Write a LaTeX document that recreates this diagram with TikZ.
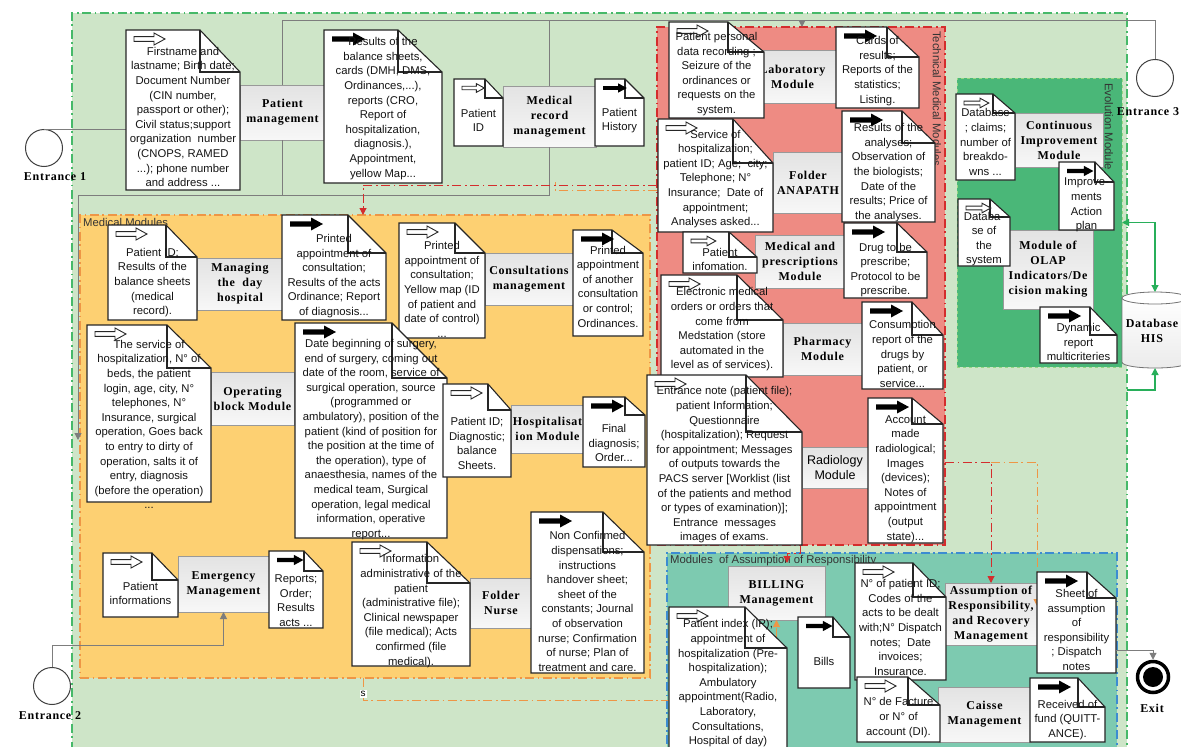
\documentclass[tikz,border=0pt]{standalone}
\usepackage{fontspec}
\setmainfont{Liberation Serif}
\newfontfamily\docff{Liberation Sans}
\newfontfamily\modff{Liberation Serif}[LetterSpace=6.0]
\usetikzlibrary{arrows.meta,calc}

\definecolor{gfill}{RGB}{206,229,200}
\definecolor{gedge}{RGB}{70,185,105}
\definecolor{ofill}{RGB}{253,208,114}
\definecolor{oedge}{RGB}{238,150,70}
\definecolor{rfill}{RGB}{238,139,131}
\definecolor{redge}{RGB}{212,45,45}
\definecolor{efill}{RGB}{74,183,120}
\definecolor{eedge}{RGB}{150,215,130}
\definecolor{tfill}{RGB}{125,202,176}
\definecolor{tedge}{RGB}{60,140,210}
\definecolor{flowgray}{RGB}{125,125,125}
\definecolor{dbgreen}{RGB}{40,175,90}

\newcommand\docfont{\docff\fontsize{11.3}{14.6}\selectfont}
\newcommand\modfont{\modff\bfseries\fontsize{12}{15}\selectfont}

% colored area: name, x1, y1, x2, y2, style
\newcommand\zone[6]{%
  \node[zonebox,#6,minimum width={(#4-#2)*1pt},minimum height={(#5-#3)*1pt}]
    (#1) at ({(#2+#4)/2},{(#3+#5)/2}) {};}
% process box: name, x1, y1, x2, y2, label
\newcommand\modul[6]{%
  \node[modbox,minimum width={(#4-#2)*1pt},minimum height={(#5-#3)*1pt}]
    (#1) at ({(#2+#4)/2},{(#3+#5)/2}) {#6};}
% document with folded corner: name, x1, y1, x2, y2, fold corner, text shift, arrow pic, text
\newcommand\docu[9]{%
  \node[docframe,minimum width={(#4-#2)*1pt},minimum height={(#5-#3)*1pt}]
    (#1) at ({(#2+#4)/2},{(#3+#5)/2}) {};
  \coordinate (#1f) at (#6);
  \draw[docline] (#1.north west) -- (#1.north west -| #1f) -- (#1f -| #1.east)
    -- (#1.south east) -- (#1.south west) -- cycle;
  \draw[foldline] (#1.north west -| #1f) -- (#1f) -- (#1f -| #1.east);
  \path (#1.north west) ++(8,9) pic #8;
  \node[doctext] (#1t) at ([yshift={-(#7)*1pt}]#1.center) {#9};}

\begin{document}
\begin{tikzpicture}[x=1pt,y=-1pt,
  zonebox/.style={inner sep=0,outer sep=0,line width=1.1pt},
  ddash/.style={dash pattern=on 9pt off 3.5pt on 1.8pt off 3.5pt},
  modbox/.style={draw=black!40,top color=black!11,bottom color=black!3,inner sep=1pt,
    outer sep=0,align=center,font=\modfont,line width=0.6pt},
  docframe/.style={inner sep=0,outer sep=0},
  docline/.style={draw=black!85,fill=white,line width=1.1pt},
  foldline/.style={draw=black!85,line width=1.1pt},
  doctext/.style={font=\docfont,align=center,inner sep=0,text=black!92},
  flow/.style={draw=flowgray,line width=1pt},
  arrowend/.style={-{Triangle[length=7pt,width=7pt]}},
  entr/.style={circle,draw=black!75,fill=white,line width=1pt,minimum size=37pt,inner sep=0},
  lbl/.style={font=\modfont,inner sep=0},
  zonelbl/.style={font=\docfont,inner sep=0,text=black!80},
  reddd/.style={draw=redge,line width=1pt,ddash},
  orgdd/.style={draw=oedge,line width=1pt,ddash},
  dbflow/.style={draw=dbgreen,line width=1.2pt},
  inarrow/.pic={\draw[line width=0.9pt,draw=black!85,fill=white]
    (0,-2.4) -- (20,-2.4) -- (20,-6) -- (31,0) -- (20,6) -- (20,2.4) -- (0,2.4) -- cycle;},
  outarrow/.pic={\fill[black]
    (0,-2.6) -- (21,-2.6) -- (21,-6.5) -- (33,0) -- (21,6.5) -- (21,2.6) -- (0,2.6) -- cycle;}
]
\path[use as bounding box] (0,0) rectangle (1181,747);
\clip (0,0) rectangle (1181,747);
\fill[white] (0,0) rectangle (1181,747);

% ---------- areas ----------
\zone{outer}{72}{13}{1127}{770}{fill=gfill,draw=gedge,ddash}
\zone{medm}{80}{215}{650}{678}{fill=ofill,draw=oedge,ddash}
\zone{tech}{657}{27}{945}{545}{fill=rfill,draw=redge,ddash}
\zone{evo}{957}{78}{1122}{367}{fill=efill,draw=eedge,dashed,line width=0.8pt}
\zone{assum}{667}{553}{1117}{770}{fill=tfill,draw=tedge,ddash}

\node[zonelbl,anchor=west] (medml) at (83,222) {Medical Modules};
\node[zonelbl,anchor=west,rotate=-90] (techl) at (937,31) {Technical Medical Modules};
\node[zonelbl,anchor=west,rotate=-90] (evol) at (1109,83) {Evolution Module};
\node[zonelbl,anchor=west] (assuml) at (670,561) {Modules\ \ of Assumption of Responsibility};

% ---------- events ----------
\node[entr] (e1) at (44,148) {};
\node[lbl] (e1l) at (55,177) {Entrance 1};
\node[entr] (e2) at (52,686) {};
\node[lbl] (e2l) at (50,716) {Entrance 2};
\node[entr] (e3) at (1155,78) {};
\node[lbl] (e3l) at (1148,112) {Entrance 3};
\node[circle,draw=black,line width=3.5pt,fill=white,minimum size=31pt,inner sep=0] (exit) at (1153,677) {};
\node[circle,fill=black,minimum size=20pt,inner sep=0] (exitc) at (exit) {};
\node[lbl] (exitl) at (1152,708) {Exit};

% ---------- database ----------
\node[docframe,minimum width=66pt,minimum height=76pt] (db) at (1155,330) {};
\draw[draw=black!55,line width=0.8pt,top color=white,bottom color=black!8]
  (1122,298) -- (1122,362) .. controls (1122,370) and (1188,370) .. (1188,362) -- (1188,298) -- cycle;
\draw[draw=black!55,line width=0.8pt,fill=white] (1155,298) ellipse [x radius=33,y radius=6];
\node[lbl,align=center] (dbl) at (1152,331) {Database\\HIS};

% ---------- connector anchors ----------
\coordinate (ytop) at (0,20);
\coordinate (ymid) at (0,195);
\coordinate (lftin) at (78,440);
\coordinate (techin) at (802,27);
\coordinate (e2k) at (0,645);
\coordinate (mmin) at (363,215);
\coordinate (ybot) at (0,700);
\coordinate (billin) at (787,563);

% ---------- processes ----------
\modul{pm}{240}{85}{325}{140}{Patient\\management}
\modul{mr}{503}{86}{596}{147}{Medical\\record\\management}
\modul{lab}{748}{50}{837}{103}{Laboratory\\Module}
\modul{ana}{773}{152}{843}{213}{Folder\\ANAPATH}
\modul{medp}{755}{235}{845}{288}{Medical and\\prescriptions\\Module}
\modul{phar}{783}{323}{862}{375}{Pharmacy\\Module}
\node[modbox,font=\docff\fontsize{12.5}{15.5}\selectfont,minimum width=66pt,minimum height=41pt]
  (rad) at (835,467.5) {Radiology\\Module};
\modul{ci}{1015}{113}{1103}{167}{Continuous\\Improvement\\Module}
\modul{olap}{1003}{230}{1093}{309}{Module of\\OLAP\\Indicators/De\\cision making}
\modul{day}{197}{258}{283}{310}{Managing\\the\ \ day\\hospital}
\modul{cons}{485}{253}{573}{305}{Consultations\\management}
\modul{opb}{211}{372}{294}{425}{Operating\\block Module}
\modul{hosp}{511}{405}{584}{453}{Hospitalisat\\ion Module}
\modul{emer}{178}{556}{269}{612}{Emergency\\Management}
\modul{nurse}{470}{578}{532}{628}{Folder\\Nurse}
\modul{bill}{728}{566}{825}{620}{BILLING\\Management}
\modul{arm}{945}{583}{1037}{645}{Assumption of\\Responsibility,\\and Recovery\\Management}
\modul{caisse}{938}{687}{1031}{742}{Caisse\\Management}

% ---------- sequence flows ----------
\draw[flow] (e3.north) |- (pm.north |- ytop) -- (pm.north);
\draw[flow] (mr.north |- ytop) -- (mr.north);
\draw[flow,arrowend] (techin |- ytop) -- (techin);
\draw[flow] (pm.south) -- (pm.south |- ymid);
\draw[flow,arrowend] (mr.south) |- (lftin |- ymid) -- (lftin);
\draw[flow] (e1.north) -- (e1.north -| pm.west);
\draw[flow,arrowend] (e2.north) -- (e2.north |- e2k) -| (emer.south);
\draw[dbflow,{Triangle[length=7pt,width=7pt]}-{Triangle[length=7pt,width=7pt]}] (evo.east) -| (db.north);
\draw[dbflow,arrowend] (outer.east |- 0,390) -| (db.south);

% ---------- message flows ----------
\draw[reddd,arrowend] (tech.west |- 0,185) -| (mmin);
\draw[orgdd] (tech.west |- 0,190) -- (555,190) -- (555,182);
\draw[orgdd,arrowend] (medm.south -| mmin) |- (bill.south |- ybot) -- (bill.south);
\node[font=\docff\fontsize{10}{10}\selectfont,fill=white,inner sep=1pt] (sl) at (363,694) {s};
\draw[reddd,arrowend] (tech.east |- 0,462) -| (arm.north);
\draw[orgdd,arrowend] (arm.north |- 0,462) -| ([yshift=8pt]arm.east);
\draw[reddd,arrowend] (tech.south -| 800,0) |- (billin |- 0,553) -- (billin);

% ---------- documents ----------
\docu{d1}{126}{30}{240}{190}{200,72}{7}{{inarrow}}{Firstname and\\lastname; Birth date;\\Document Number\\(CIN number,\\passport or other);\\Civil status;support\\organization\ \ number\\(CNOPS, RAMED\\...); phone number\\and address ...}
\docu{d2}{324}{30}{442}{183}{398,72}{2}{{outarrow}}{Results of the\\balance sheets,\\cards (DMH, DMS,\\Ordinances,...),\\reports (CRO,\\Report of\\hospitalization,\\diagnosis.),\\Appointment,\\yellow Map...}
\docu{d3}{454}{79}{503}{146}{485,98}{8}{[scale=.72]{inarrow}}{Patient\\ID}
\docu{d4}{595}{79}{644}{146}{625,98}{8}{[scale=.72]{outarrow}}{Patient\\History}
\docu{d5}{669}{22}{764}{118}{728,52}{4}{{inarrow}}{Patient personal\\data recording ;\\Seizure of the\\ordinances or\\requests on the\\system.}
\docu{d6}{836}{27}{919}{108}{887,57}{3.5}{{outarrow}}{Cards of\\results;\\Reports of the\\statistics;\\Listing.}
\docu{d7}{658}{119}{773}{232}{733,163}{3.5}{{inarrow}}{Service of\\hospitalization;\\patient ID; Age;\ \ city;\\Telephone; N°\\Insurance;\ \ Date of\\appointment;\\Analyses asked...}
\docu{d8}{842}{111}{935}{222}{902,143}{6}{{outarrow}}{Results of the\\analyses;\\Observation of\\the biologists;\\Date of the\\results; Price of\\the analyses.}
\docu{d9}{683}{232}{757}{273}{729,257}{7}{[scale=.8]{inarrow}}{Patient\\infomation.}
\docu{d10}{844}{223}{927}{298}{897,252}{9.5}{{outarrow}}{Drug to be\\prescribe;\\Protocol to be\\prescribe.}
\docu{d11}{661}{275}{783}{377}{737,320}{3.5}{{inarrow}}{Electronic medical\\orders or orders that\\come from\\Medstation (store\\automated in the\\level as of services).}
\docu{d12}{862}{302}{943}{389}{912,335}{8.5}{{outarrow}}{Consumption\\report of the\\drugs by\\patient, or\\service...}
\docu{d13}{647}{375}{802}{545}{746,432}{5}{{inarrow}}{Entrance note (patient file);\\patient Information;\\Questionnaire\\(hospitalization); Request\\for appointment; Messages\\of outputs towards the\\PACS server [Worklist (list\\of the patients and method\\or types of examination)];\\Entrance\ \ messages\\images of exams.}
\docu{d14}{868}{398}{943}{543}{912,424}{8.5}{{outarrow}}{Account\\made\\radiological;\\Images\\(devices);\\Notes of\\appointment\\(output\\state)...}
\docu{d15}{956}{94}{1015}{180}{993,113}{5}{[scale=.8]{inarrow}}{Database\\; claims;\\number of\\breakdo-\\wns ...}
\docu{d16}{1059}{162}{1114}{230}{1095,182}{9}{[scale=.8]{outarrow}}{Improve-\\ments\\Action\\plan}
\docu{d17}{958}{199}{1010}{266}{990,217}{6.5}{[scale=.8]{inarrow}}{Databa-\\se of\\the\\system}
\docu{d18}{1040}{307}{1117}{363}{1090,335}{7}{{outarrow}}{Dynamic\\report\\multicriteries}
\docu{d19}{108}{225}{197}{320}{166,257}{10}{{inarrow}}{Patient ID;\\Results of the\\balance sheets\\(medical\\record).}
\docu{d20}{282}{215}{386}{320}{348,253}{8.5}{{outarrow}}{Printed\\appointment of\\consultation;\\Results of the acts\\Ordinance; Report\\of diagnosis...}
\docu{d21}{399}{223}{485}{338}{455,253}{9}{{inarrow}}{Printed\\appointment of\\consultation;\\Yellow map (ID\\of patient and\\date of control)\\...}
\docu{d22}{573}{230}{643}{336}{612,253}{3.5}{{outarrow}}{Printed\\appointment\\of another\\consultation\\or control;\\Ordinances.}
\docu{d23}{87}{325}{211}{502}{167,368}{11}{{inarrow}}{The service of\\hospitalization, N° of\\beds, the patient\\login, age, city, N°\\telephones, N°\\Insurance, surgical\\operation, Goes back\\to entry to dirty of\\operation, salts it of\\entry, diagnosis\\(before the operation)\\...}
\docu{d24}{295}{323}{447}{538}{392,378}{9}{{outarrow}}{Date beginning of surgery,\\end of surgery, coming out\\date of the room, service of\\surgical operation, source\\(programmed or\\ambulatory), position of the\\patient (kind of position for\\the position at the time of\\the operation), type of\\anaesthesia, names of the\\medical team, Surgical\\operation, legal medical\\information, operative\\report...}
\docu{d25}{443}{384}{511}{477}{488,410}{13}{{inarrow}}{Patient ID;\\Diagnostic;\\balance\\Sheets.}
\docu{d26}{583}{397}{645}{467}{625,415}{11}{{outarrow}}{Final\\diagnosis;\\Order...}
\docu{d27}{103}{553}{178}{617}{152,580}{8.5}{{inarrow}}{Patient\\informations}
\docu{d28}{269}{551}{323}{628}{304,571}{11}{[scale=.8]{outarrow}}{Reports;\\Order;\\Results\\acts ...}
\docu{d29}{352}{542}{470}{666}{427,583}{7}{{inarrow}}{Information\\administrative of the\\patient\\(administrative file);\\Clinical newspaper\\(file medical); Acts\\confirmed (file\\medical).}
\docu{d30}{531}{512}{644}{673}{603,552}{9}{{outarrow}}{Non Confirmed\\dispensations;\\instructions\\handover sheet;\\sheet of the\\constants; Journal\\of observation\\nurse; Confirmation\\of nurse; Plan of\\treatment and care.}
\docu{d31}{669}{607}{787}{775}{745,648}{-7.6}{{inarrow}}{Patient index (IP);\\appointment of\\hospitalization (Pre-\\hospitalization);\\Ambulatory\\appointment(Radio,\\Laboratory,\\Consultations,\\Hospital of day)}
\docu{d32}{798}{617}{850}{688}{833,637}{8.5}{[scale=.8]{outarrow}}{Bills}
\docu{d33}{855}{563}{946}{680}{913,597}{6}{{inarrow}}{N° of patient ID;\\Codes of the\\acts to be dealt\\with;N° Dispatch\\notes;\ \ Date\\invoices;\\Insurance.}
\docu{d34}{1037}{572}{1116}{673}{1087,598}{7.5}{{outarrow}}{Sheet of\\assumption\\of\\responsibility\\; Dispatch\\notes}
\docu{d35}{857}{677}{940}{742}{908,705}{8}{{inarrow}}{N° de Facture\\or N° of\\account (DI).}
\docu{d36}{1030}{678}{1105}{742}{1078,707}{10}{{outarrow}}{Received of\\fund (QUITT-\\ANCE).}

% ---------- end flow ----------
\draw[flow,arrowend] ([yshift=-27.5pt]d34.east) -| (exit.north);
\end{tikzpicture}
\end{document}
